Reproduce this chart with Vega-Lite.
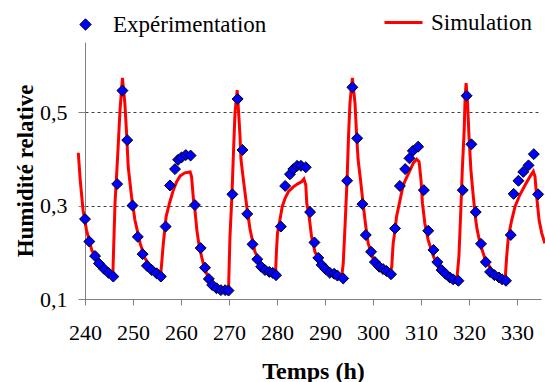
{
  "$schema": "https://vega.github.io/schema/vega-lite/v6.json",
  "width": 456,
  "height": 257,
  "autosize": {"type": "none"},
  "padding": {"left": 85, "top": 42, "right": 4, "bottom": 83},
  "background": "white",
  "config": {
    "view": {"stroke": null},
    "font": "Liberation Serif",
    "style": {"guide-label": {"font": "Liberation Serif", "fill": "black"}, "guide-title": {"font": "Liberation Serif"}},
    "axis": {"labelFont": "Liberation Serif", "titleFont": "Liberation Serif", "labelColor": "black", "titleColor": "black", "domainColor": "#808080", "tickColor": "#808080", "labelFontSize": 22, "titleFontSize": 24, "titleFontWeight": "bold"},
    "legend": {"labelFont": "Liberation Serif", "labelFontSize": 23, "labelColor": "black"}
  },
  "datasets": {
    "exp": [
      {"t": 240, "h": 0.271}, {"t": 240.9, "h": 0.223}, {"t": 242.1, "h": 0.192}, {"t": 242.9, "h": 0.176}, {"t": 244.0, "h": 0.164}, {"t": 244.9, "h": 0.156}, {"t": 245.9, "h": 0.148}, {"t": 246.7, "h": 0.346}, {"t": 247.8, "h": 0.546}, {"t": 248.8, "h": 0.440}, {"t": 249.9, "h": 0.300}, {"t": 251.0, "h": 0.233}, {"t": 252.0, "h": 0.196}, {"t": 252.9, "h": 0.171}, {"t": 253.9, "h": 0.162}, {"t": 254.9, "h": 0.155}, {"t": 255.8, "h": 0.148}, {"t": 256.8, "h": 0.255}, {"t": 257.7, "h": 0.343}, {"t": 258.75, "h": 0.378}, {"t": 259.4, "h": 0.398}, {"t": 260.1, "h": 0.403}, {"t": 261.0, "h": 0.408}, {"t": 262.0, "h": 0.407}, {"t": 262.9, "h": 0.301}, {"t": 264.1, "h": 0.209}, {"t": 265.0, "h": 0.167}, {"t": 265.8, "h": 0.143}, {"t": 266.5, "h": 0.130}, {"t": 267.4, "h": 0.123}, {"t": 268.3, "h": 0.119}, {"t": 269.2, "h": 0.119}, {"t": 269.9, "h": 0.118}, {"t": 270.7, "h": 0.324}, {"t": 271.8, "h": 0.528}, {"t": 272.8, "h": 0.419}, {"t": 273.8, "h": 0.282}, {"t": 274.9, "h": 0.217}, {"t": 275.9, "h": 0.185}, {"t": 276.7, "h": 0.169}, {"t": 277.5, "h": 0.162}, {"t": 278.4, "h": 0.158}, {"t": 279.1, "h": 0.156}, {"t": 279.8, "h": 0.151}, {"t": 280.8, "h": 0.255}, {"t": 281.7, "h": 0.342}, {"t": 282.7, "h": 0.367}, {"t": 283.4, "h": 0.378}, {"t": 284.2, "h": 0.385}, {"t": 285.0, "h": 0.385}, {"t": 286.0, "h": 0.382}, {"t": 286.9, "h": 0.286}, {"t": 287.8, "h": 0.221}, {"t": 288.6, "h": 0.188}, {"t": 289.3, "h": 0.173}, {"t": 290.1, "h": 0.164}, {"t": 291.0, "h": 0.156}, {"t": 291.9, "h": 0.154}, {"t": 292.6, "h": 0.150}, {"t": 293.8, "h": 0.144}, {"t": 294.6, "h": 0.353}, {"t": 295.7, "h": 0.553}, {"t": 296.7, "h": 0.444}, {"t": 297.8, "h": 0.303}, {"t": 298.5, "h": 0.237}, {"t": 299.6, "h": 0.201}, {"t": 300.4, "h": 0.179}, {"t": 301.3, "h": 0.169}, {"t": 302.1, "h": 0.164}, {"t": 302.8, "h": 0.160}, {"t": 303.75, "h": 0.153}, {"t": 304.6, "h": 0.251}, {"t": 305.6, "h": 0.342}, {"t": 306.7, "h": 0.378}, {"t": 307.6, "h": 0.401}, {"t": 308.3, "h": 0.417}, {"t": 309.4, "h": 0.426}, {"t": 310.6, "h": 0.333}, {"t": 311.5, "h": 0.246}, {"t": 312.6, "h": 0.205}, {"t": 313.4, "h": 0.179}, {"t": 314.3, "h": 0.162}, {"t": 315.1, "h": 0.154}, {"t": 316.0, "h": 0.146}, {"t": 316.7, "h": 0.142}, {"t": 317.8, "h": 0.139}, {"t": 318.7, "h": 0.333}, {"t": 319.5, "h": 0.535}, {"t": 320.5, "h": 0.431}, {"t": 321.4, "h": 0.286}, {"t": 322.5, "h": 0.218}, {"t": 323.5, "h": 0.179}, {"t": 324.4, "h": 0.158}, {"t": 325.3, "h": 0.151}, {"t": 326.25, "h": 0.146}, {"t": 326.9, "h": 0.142}, {"t": 327.7, "h": 0.139}, {"t": 328.7, "h": 0.237}, {"t": 329.3, "h": 0.325}, {"t": 330.3, "h": 0.353}, {"t": 331.3, "h": 0.372}, {"t": 332.4, "h": 0.386}, {"t": 333.5, "h": 0.410}, {"t": 334.4, "h": 0.324}
    ],
    "sim": [
      {"t": 238.6, "h": 0.413}, {"t": 239.0, "h": 0.355}, {"t": 239.6, "h": 0.29}, {"t": 240.3, "h": 0.248}, {"t": 241.4, "h": 0.205}, {"t": 243.1, "h": 0.169}, {"t": 244.9, "h": 0.156}, {"t": 245.8, "h": 0.152}, {"t": 246.25, "h": 0.305}, {"t": 246.8, "h": 0.405}, {"t": 247.3, "h": 0.505}, {"t": 247.8, "h": 0.573}, {"t": 248.3, "h": 0.519}, {"t": 248.7, "h": 0.448}, {"t": 249.0, "h": 0.383}, {"t": 249.7, "h": 0.319}, {"t": 250.4, "h": 0.269}, {"t": 251.5, "h": 0.219}, {"t": 252.5, "h": 0.187}, {"t": 254.2, "h": 0.162}, {"t": 255.3, "h": 0.160}, {"t": 255.8, "h": 0.155}, {"t": 256.3, "h": 0.217}, {"t": 256.9, "h": 0.276}, {"t": 257.6, "h": 0.305}, {"t": 258.4, "h": 0.333}, {"t": 259.1, "h": 0.351}, {"t": 259.8, "h": 0.363}, {"t": 260.8, "h": 0.370}, {"t": 261.9, "h": 0.372}, {"t": 262.2, "h": 0.362}, {"t": 262.6, "h": 0.312}, {"t": 262.9, "h": 0.291}, {"t": 263.3, "h": 0.248}, {"t": 263.8, "h": 0.212}, {"t": 264.7, "h": 0.173}, {"t": 265.7, "h": 0.144}, {"t": 266.7, "h": 0.130}, {"t": 268.1, "h": 0.119}, {"t": 269.5, "h": 0.116}, {"t": 269.9, "h": 0.119}, {"t": 270.2, "h": 0.233}, {"t": 270.6, "h": 0.319}, {"t": 270.9, "h": 0.405}, {"t": 271.25, "h": 0.498}, {"t": 271.7, "h": 0.547}, {"t": 272.0, "h": 0.50}, {"t": 272.3, "h": 0.447}, {"t": 272.5, "h": 0.398}, {"t": 273.0, "h": 0.355}, {"t": 273.7, "h": 0.298}, {"t": 274.4, "h": 0.248}, {"t": 275.4, "h": 0.201}, {"t": 276.8, "h": 0.173}, {"t": 278.5, "h": 0.158}, {"t": 279.7, "h": 0.156}, {"t": 279.9, "h": 0.205}, {"t": 280.1, "h": 0.241}, {"t": 280.6, "h": 0.269}, {"t": 281.1, "h": 0.298}, {"t": 281.7, "h": 0.316}, {"t": 282.4, "h": 0.330}, {"t": 283.4, "h": 0.340}, {"t": 284.4, "h": 0.347}, {"t": 285.1, "h": 0.351}, {"t": 285.6, "h": 0.357}, {"t": 286.0, "h": 0.344}, {"t": 286.2, "h": 0.305}, {"t": 286.7, "h": 0.276}, {"t": 287.2, "h": 0.233}, {"t": 287.9, "h": 0.201}, {"t": 289.0, "h": 0.180}, {"t": 290.7, "h": 0.160}, {"t": 292.4, "h": 0.151}, {"t": 293.5, "h": 0.149}, {"t": 293.8, "h": 0.176}, {"t": 294.2, "h": 0.262}, {"t": 294.6, "h": 0.355}, {"t": 294.9, "h": 0.448}, {"t": 295.2, "h": 0.519}, {"t": 295.7, "h": 0.573}, {"t": 296.25, "h": 0.519}, {"t": 296.6, "h": 0.448}, {"t": 296.9, "h": 0.398}, {"t": 297.4, "h": 0.355}, {"t": 298.0, "h": 0.298}, {"t": 298.5, "h": 0.255}, {"t": 299.0, "h": 0.219}, {"t": 300.1, "h": 0.184}, {"t": 301.8, "h": 0.163}, {"t": 303.5, "h": 0.153}, {"t": 303.9, "h": 0.169}, {"t": 304.2, "h": 0.219}, {"t": 304.6, "h": 0.248}, {"t": 304.9, "h": 0.276}, {"t": 305.6, "h": 0.31}, {"t": 306.3, "h": 0.344}, {"t": 307.4, "h": 0.369}, {"t": 308.4, "h": 0.391}, {"t": 309.1, "h": 0.399}, {"t": 309.6, "h": 0.394}, {"t": 310.0, "h": 0.355}, {"t": 310.3, "h": 0.305}, {"t": 310.8, "h": 0.262}, {"t": 311.5, "h": 0.226}, {"t": 312.6, "h": 0.191}, {"t": 314.0, "h": 0.162}, {"t": 315.7, "h": 0.144}, {"t": 317.4, "h": 0.134}, {"t": 317.9, "h": 0.191}, {"t": 318.3, "h": 0.291}, {"t": 318.6, "h": 0.376}, {"t": 319.0, "h": 0.462}, {"t": 319.2, "h": 0.533}, {"t": 319.4, "h": 0.562}, {"t": 319.7, "h": 0.519}, {"t": 320.0, "h": 0.448}, {"t": 320.4, "h": 0.376}, {"t": 320.9, "h": 0.319}, {"t": 321.4, "h": 0.269}, {"t": 321.7, "h": 0.248}, {"t": 322.3, "h": 0.219}, {"t": 323.3, "h": 0.187}, {"t": 324.7, "h": 0.162}, {"t": 326.5, "h": 0.142}, {"t": 327.5, "h": 0.137}, {"t": 327.85, "h": 0.191}, {"t": 328.2, "h": 0.233}, {"t": 328.9, "h": 0.269}, {"t": 329.6, "h": 0.298}, {"t": 330.6, "h": 0.323}, {"t": 331.7, "h": 0.344}, {"t": 332.7, "h": 0.362}, {"t": 333.4, "h": 0.373}, {"t": 333.75, "h": 0.362}, {"t": 334.1, "h": 0.319}, {"t": 334.6, "h": 0.269}, {"t": 335.15, "h": 0.241}, {"t": 335.8, "h": 0.219}
    ]
  },
  "encoding": {
    "x": {"field": "t", "type": "quantitative", "scale": {"domain": [240, 335], "nice": false, "zero": false},
      "axis": {"title": "Temps (h)", "values": [240, 250, 260, 270, 280, 290, 300, 310, 320, 330], "grid": false, "tickSize": 6, "labelPadding": 17, "titlePadding": 16, "labelFlush": false, "labelOverlap": false, "labelFont": "Liberation Serif", "labelFontSize": 22, "titleFont": "Liberation Serif", "titleFontSize": 24}},
    "y": {"field": "h", "type": "quantitative", "scale": {"domain": [0.1, 0.65], "nice": false, "zero": false},
      "axis": {"title": "Humidité relative", "values": [0.1, 0.3, 0.5], "labelExpr": "replace(format(datum.value, '.1f'), '.', ',')", "grid": true, "gridDash": [3, 3], "gridColor": "#404040", "gridWidth": 1, "tickSize": 7, "labelPadding": 11, "titlePadding": 2, "labelFlush": false, "labelFont": "Liberation Serif", "labelFontSize": 22, "titleFont": "Liberation Serif", "titleFontSize": 23}}
  },
  "layer": [
    {
      "data": {"name": "sim"},
      "mark": {"type": "line", "strokeWidth": 3, "clip": false},
      "encoding": {
        "stroke": {"datum": "Simulation", "scale": {"range": ["#FF0000"]},
          "legend": {"title": null, "orient": "none", "legendX": 298, "legendY": -40, "symbolType": "stroke", "symbolSize": 1444, "symbolStrokeWidth": 3, "labelOffset": 7, "padding": 0}}
      }
    },
    {
      "data": {"name": "exp"},
      "mark": {"type": "point", "shape": "diamond", "filled": true, "size": 120, "stroke": "black", "strokeWidth": 1, "opacity": 1, "clip": false},
      "encoding": {
        "fill": {"datum": "Expérimentation", "scale": {"range": ["#0000FF"]},
          "legend": {"title": null, "orient": "none", "legendX": -11, "legendY": -29, "symbolType": "diamond", "symbolSize": 130, "symbolStrokeColor": "black", "symbolStrokeWidth": 1, "symbolOpacity": 1, "labelOffset": 16, "padding": 0}}
      }
    }
  ]
}
